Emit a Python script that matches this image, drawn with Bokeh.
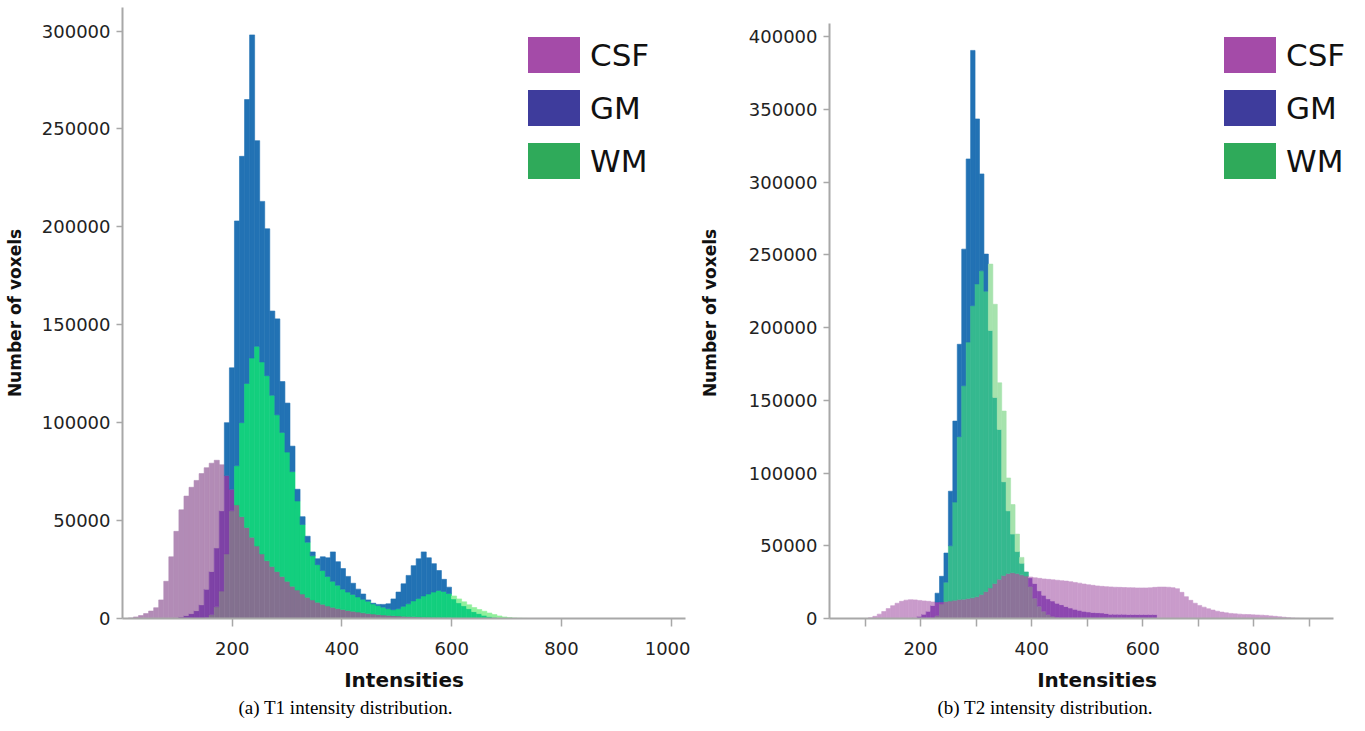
import numpy as np
from bokeh.plotting import figure
from bokeh.models import (ColumnDataSource, Range1d, FixedTicker, BasicTickFormatter,
                          Legend, LegendItem, Title)
from bokeh.layouts import row
from bokeh.embed import file_html
from bokeh.resources import INLINE

# ---------------- data ----------------
classes = ["CSF", "GM", "WM"]
legend_colors = ["#a44ba8", "#3e3c9c", "#2faa5a"]

# T1 histogram: bins of width 9.2 starting at 1.6
t1_bin_start = 1.6
t1_bin_width = 9.2
t1_csf = [0, 300, 800, 1500, 2500, 3800, 5500, 9500, 19000, 31500,
          44500, 55500, 62500, 67000, 70500, 74000, 77000, 79300, 80800, 78500,
          73000, 66000, 58000, 52000, 46500, 41500, 37000, 33000, 29500, 26500,
          24000, 21500, 19000, 16500, 14500, 12500, 10800, 9500, 8300, 7300,
          6400, 5700, 5100, 4600, 4100, 3700, 3300, 2900, 2600, 2300,
          2000, 1800, 1600, 1450, 1300, 1150, 1000, 900, 800, 700,
          620, 550, 480, 420, 360, 300, 250, 200, 160, 120,
          90, 60, 40, 20, 10, 0, 0, 0, 0, 0]
t1_gm = [0, 0, 0, 0, 0, 0, 0, 0, 0, 0,
         300, 800, 1500, 2500, 4000, 7000, 15000, 24000, 36000, 55000,
         100000, 128000, 203000, 236000, 265000, 298000, 244000, 213000, 199000, 157000,
         153000, 121000, 110000, 88000, 66000, 52000, 42000, 34000, 30500, 31500,
         31000, 34000, 29000, 25500, 21500, 18000, 15000, 12500, 9500, 7800,
         7200, 7200, 7500, 10000, 13500, 17700, 22000, 27000, 30500, 34000,
         31000, 28000, 24500, 20000, 16000, 10000, 8000, 6500, 5000, 3500,
         2500, 1600, 1000, 600, 300, 150, 0, 0, 0, 0]
t1_wm = [0, 0, 0, 0, 0, 0, 0, 0, 0, 0,
         0, 0, 0, 0, 0, 0, 500, 2000, 6000, 14000,
         33000, 55000, 78000, 100000, 120000, 133000, 139000, 131000, 124000, 114000,
         104000, 95000, 85000, 75000, 60000, 48000, 39000, 32000, 27500, 24500,
         21500, 19000, 17000, 15000, 13500, 12300, 11000, 9800, 8800, 7500,
         6600, 5800, 5000, 4500, 5000, 6200, 7500, 9000, 10200, 11500,
         12500, 13500, 14300, 13800, 12800, 11500, 10000, 8500, 7000, 5600,
         4600, 3700, 2800, 2000, 1300, 800, 450, 250, 120, 50]

# T2 histogram: bins of width 8 starting at 106
t2_bin_start = 106
t2_bin_width = 8
t2_csf = [500, 1500, 3000, 4800, 6800, 8800, 10500, 11800, 12600, 12900,
          12800, 12400, 12100, 11800, 11400, 11300, 11400, 11700, 12000, 12500,
          13000, 13300, 13700, 14200, 15000, 16500, 18500, 21000, 24000, 27000,
          29500, 31000, 31500, 31000, 30000, 29200, 28500, 28000, 27600, 27200,
          26900, 26600, 26300, 26000, 25700, 25300, 24800, 24300, 23700, 23200,
          22800, 22400, 22100, 21900, 21700, 21500, 21400, 21300, 21200, 21100,
          21000, 21000, 21000, 21100, 21400, 21600, 21600, 21500, 21200, 20500,
          18000, 15000, 12500, 10500, 9000, 7800, 6700, 5800, 5000, 4400,
          3900, 3500, 3200, 3000, 2800, 2700, 2500, 2400, 2300, 2100,
          1800, 1500, 1200, 900, 600, 350, 150, 50]
t2_gm = [0, 0, 0, 0, 0, 0, 0, 0, 0, 0,
         500, 1500, 3000, 5000, 9000, 17400, 29000, 45000, 87500, 135700,
         188500, 253900, 315900, 390500, 343400, 305600, 250500, 198000, 152000, 130000,
         94000, 74000, 58000, 46000, 38000, 32000, 28000, 24000, 19000, 16000,
         13500, 12000, 10500, 9500, 8300, 7200, 6300, 5600, 5000, 4500,
         4200, 4000, 3800, 3500, 3000, 3000, 2900, 2900, 2800, 2800,
         2800, 2700, 2700, 2700, 2700, 0, 0, 0, 0, 0,
         0, 0, 0, 0, 0, 0, 0, 0, 0, 0,
         0, 0, 0, 0, 0, 0, 0, 0, 0, 0,
         0, 0, 0, 0, 0, 0, 0, 0]
t2_wm = [0, 0, 0, 0, 0, 0, 0, 0, 0, 0,
         0, 0, 0, 0, 0, 2000, 10000, 25000, 50000, 80000,
         125000, 160000, 190000, 215000, 230000, 239000, 225000, 243600, 216000, 162000,
         142600, 96600, 78300, 58000, 42000, 32000, 22000, 14000, 8500, 5000,
         2800, 1500, 700, 300, 0, 0, 0, 0, 0, 0,
         0, 0, 0, 0, 0, 0, 0, 0, 0, 0,
         0, 0, 0, 0, 0, 0, 0, 0, 0, 0,
         0, 0, 0, 0, 0, 0, 0, 0, 0, 0,
         0, 0, 0, 0, 0, 0, 0, 0, 0, 0,
         0, 0, 0, 0, 0, 0, 0, 0]

t1_y_ticks = [0, 50000, 100000, 150000, 200000, 250000, 300000]
t2_y_ticks = [0, 50000, 100000, 150000, 200000, 250000, 300000, 350000, 400000]
t1_x_ticks = [200, 400, 600, 800, 1000]
t2_x_ticks = [200, 400, 600, 800]
t2_x_minor = [100, 300, 500, 700, 900]
captions = ["(a) T1 intensity distribution.", "(b) T2 intensity distribution."]

# colours of overlapped regions (C=CSF, G=GM, W=WM)
t1_palette = {"C": "#b28bb6", "G": "#2272b4", "W": "#90f09c", "CG": "#7e42a6",
              "GW": "#13cf7e", "CW": "#86a894", "CGW": "#83708f"}
t2_palette = {"C": "#c99bcb", "G": "#2272b4", "W": "#a6e3ad", "CG": "#8d47b0",
              "GW": "#35b98f", "CW": "#9a9fb0", "CGW": "#8c7399"}

AX = "#a8a8a8"
TICK_FONT = "DejaVu Sans"


def segments(start, width, csf, gm, wm, palette):
    n = len(csf)
    lefts = start + width * np.arange(n)
    L, R, B, T, C = [], [], [], [], []
    for i in range(n):
        vals = {"C": csf[i], "G": gm[i], "W": wm[i]}
        levels = sorted(set([0] + [v for v in vals.values() if v > 0]))
        for lo, hi in zip(levels[:-1], levels[1:]):
            key = "".join(k for k in "CGW" if vals[k] >= hi)
            L.append(lefts[i]); R.append(lefts[i] + width)
            B.append(lo); T.append(hi); C.append(palette[key])
    return ColumnDataSource(dict(left=L, right=R, bottom=B, top=T, color=C))


def make(width, height, xr, xbounds, yr, ybounds, borders, src, xticks, xminor, yticks,
         ylab_standoff, legend_loc, caption, cap_offset):
    bl, br, bt, bb = borders
    p = figure(width=width, height=height, x_range=Range1d(*xr), y_range=Range1d(*yr),
               output_backend="svg", toolbar_location=None, title=None,
               min_border_left=bl, min_border_right=br, min_border_top=bt,
               min_border_bottom=bb)
    p.outline_line_color = None
    p.xgrid.visible = False
    p.ygrid.visible = False

    p.quad(left="left", right="right", bottom="bottom", top="top", source=src,
           fill_color="color", line_color="color", line_width=0.6)

    for ax in (p.xaxis[0], p.yaxis[0]):
        ax.axis_line_color = AX
        ax.axis_line_width = 2
        ax.major_tick_line_color = AX
        ax.major_tick_line_width = 1.5
        ax.minor_tick_line_color = AX
        ax.minor_tick_line_width = 1.5
        ax.major_tick_in = 0
        ax.minor_tick_in = 0
        ax.major_label_text_font = TICK_FONT
        ax.major_label_text_font_size = "18px"
        ax.major_label_text_color = "#222222"
        ax.axis_label_text_font = TICK_FONT
        ax.axis_label_text_font_style = "bold"
        ax.axis_label_text_color = "#111111"

    xa = p.xaxis[0]
    xa.ticker = FixedTicker(ticks=xticks, minor_ticks=xminor)
    xa.bounds = xbounds
    xa.major_tick_out = 8
    xa.minor_tick_out = 8
    xa.major_label_standoff = 15
    xa.axis_label = "Intensities"
    xa.axis_label_text_font_size = "20px"
    xa.axis_label_standoff = 10

    ya = p.yaxis[0]
    ya.ticker = FixedTicker(ticks=yticks, minor_ticks=[])
    ya.bounds = ybounds
    ya.formatter = BasicTickFormatter(use_scientific=False)
    ya.major_tick_out = 6
    ya.minor_tick_out = 0
    ya.major_label_standoff = 6
    ya.axis_label = "Number of voxels"
    ya.axis_label_text_font_size = "17px"
    ya.axis_label_standoff = ylab_standoff

    items = []
    for name, col in zip(classes, legend_colors):
        r = p.quad(left=[np.nan], right=[np.nan], bottom=[np.nan], top=[np.nan],
                   fill_color=col, line_color=None)
        items.append(LegendItem(label=name, renderers=[r]))
    lg = Legend(items=items, location=legend_loc, glyph_width=65, glyph_height=45,
                label_height=45, spacing=8, padding=0, margin=0, label_standoff=4,
                label_text_font=TICK_FONT, label_text_font_size="31px",
                label_text_color="#111111", border_line_color=None,
                background_fill_alpha=0)
    p.add_layout(lg, "center")

    p.add_layout(Title(text=caption, align="left", offset=cap_offset, standoff=0,
                       text_font="Liberation Serif", text_font_size="19px",
                       text_font_style="normal", text_color="black"), "below")
    return p


src1 = segments(t1_bin_start, t1_bin_width, t1_csf, t1_gm, t1_wm, t1_palette)
src2 = segments(t2_bin_start, t2_bin_width, t2_csf, t2_gm, t2_wm, t2_palette)

p1 = make(690, 725, (0, 1026), (0, 1026), (0, 312000), (0, 312000), (122, 5, 7, 107), src1,
          t1_x_ticks, [], t1_y_ticks, 14, (399, 435), captions[0], 116)
p2 = make(674, 725, (36, 999), (36, 944), (0, 420000), (0, 409000), (139, 0, 7, 107), src2,
          t2_x_ticks, t2_x_minor, t2_y_ticks, 26, (388, 435), captions[1], 108)

layout = row(p1, p2)
open("out.html", "w").write(file_html(layout, INLINE))
